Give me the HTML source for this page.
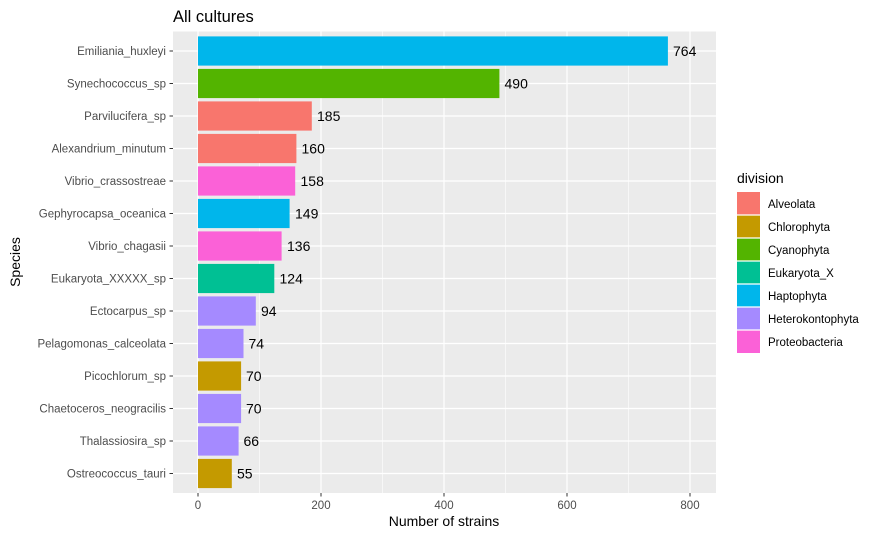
<!DOCTYPE html>
<html><head><style>body{margin:0;background:#fff}svg{display:block;font-family:"Liberation Sans",Arial,sans-serif}</style></head>
<body>
<svg width="879" height="536" viewBox="0 0 879 536" xmlns="http://www.w3.org/2000/svg">
<rect width="879" height="536" fill="#fff"/>
<rect x="173" y="31.5" width="543" height="461.5" fill="#EBEBEB"/>
<g stroke="#fff" stroke-width="0.6">
<line x1="259.5" y1="31.5" x2="259.5" y2="493"/><line x1="382.5" y1="31.5" x2="382.5" y2="493"/><line x1="505.5" y1="31.5" x2="505.5" y2="493"/><line x1="628.5" y1="31.5" x2="628.5" y2="493"/>
</g>
<g stroke="#fff" stroke-width="1.2">
<line x1="198" y1="31.5" x2="198" y2="493"/><line x1="321" y1="31.5" x2="321" y2="493"/><line x1="444" y1="31.5" x2="444" y2="493"/><line x1="567" y1="31.5" x2="567" y2="493"/><line x1="690" y1="31.5" x2="690" y2="493"/>
<line x1="173" y1="51" x2="716" y2="51"/><line x1="173" y1="83.5" x2="716" y2="83.5"/><line x1="173" y1="116" x2="716" y2="116"/><line x1="173" y1="148.5" x2="716" y2="148.5"/><line x1="173" y1="181" x2="716" y2="181"/><line x1="173" y1="213.5" x2="716" y2="213.5"/><line x1="173" y1="246" x2="716" y2="246"/><line x1="173" y1="278.5" x2="716" y2="278.5"/><line x1="173" y1="311" x2="716" y2="311"/><line x1="173" y1="343.5" x2="716" y2="343.5"/><line x1="173" y1="376" x2="716" y2="376"/><line x1="173" y1="408.5" x2="716" y2="408.5"/><line x1="173" y1="441" x2="716" y2="441"/><line x1="173" y1="473.5" x2="716" y2="473.5"/>
</g>
<g>
<rect x="198" y="36.4" width="469.9" height="29.2" fill="#00B6EB"/>
<rect x="198" y="68.9" width="301.4" height="29.2" fill="#53B400"/>
<rect x="198" y="101.4" width="113.8" height="29.2" fill="#F8766D"/>
<rect x="198" y="133.9" width="98.4" height="29.2" fill="#F8766D"/>
<rect x="198" y="166.4" width="97.2" height="29.2" fill="#FB61D7"/>
<rect x="198" y="198.9" width="91.6" height="29.2" fill="#00B6EB"/>
<rect x="198" y="231.4" width="83.6" height="29.2" fill="#FB61D7"/>
<rect x="198" y="263.9" width="76.3" height="29.2" fill="#00C094"/>
<rect x="198" y="296.4" width="57.8" height="29.2" fill="#A58AFF"/>
<rect x="198" y="328.9" width="45.5" height="29.2" fill="#A58AFF"/>
<rect x="198" y="361.4" width="43.1" height="29.2" fill="#C49A00"/>
<rect x="198" y="393.9" width="43.1" height="29.2" fill="#A58AFF"/>
<rect x="198" y="426.4" width="40.6" height="29.2" fill="#A58AFF"/>
<rect x="198" y="458.9" width="33.8" height="29.2" fill="#C49A00"/>
</g>
<g font-size="14" fill="#000">
<text x="673" y="56">764</text><text x="504.5" y="88.5">490</text><text x="317" y="121">185</text><text x="301.5" y="153.5">160</text><text x="300.5" y="186">158</text><text x="295" y="218.5">149</text><text x="287" y="251">136</text><text x="279.5" y="283.5">124</text><text x="261" y="316">94</text><text x="248.5" y="348.5">74</text><text x="246" y="381">70</text><text x="246" y="413.5">70</text><text x="243.5" y="446">66</text><text x="237" y="478.5">55</text>
</g>
<g font-size="11.5" fill="#4D4D4D" text-anchor="end">
<text x="166" y="55">Emiliania_huxleyi</text><text x="166" y="87.5">Synechococcus_sp</text><text x="166" y="120">Parvilucifera_sp</text><text x="166" y="152.5">Alexandrium_minutum</text><text x="166" y="185">Vibrio_crassostreae</text><text x="166" y="217.5">Gephyrocapsa_oceanica</text><text x="166" y="250">Vibrio_chagasii</text><text x="166" y="282.5">Eukaryota_XXXXX_sp</text><text x="166" y="315">Ectocarpus_sp</text><text x="166" y="347.5">Pelagomonas_calceolata</text><text x="166" y="380">Picochlorum_sp</text><text x="166" y="412.5">Chaetoceros_neogracilis</text><text x="166" y="445">Thalassiosira_sp</text><text x="166" y="477.5">Ostreococcus_tauri</text>
</g>
<g stroke="#333" stroke-width="1">
<line x1="169.5" y1="51" x2="173" y2="51"/><line x1="169.5" y1="83.5" x2="173" y2="83.5"/><line x1="169.5" y1="116" x2="173" y2="116"/><line x1="169.5" y1="148.5" x2="173" y2="148.5"/><line x1="169.5" y1="181" x2="173" y2="181"/><line x1="169.5" y1="213.5" x2="173" y2="213.5"/><line x1="169.5" y1="246" x2="173" y2="246"/><line x1="169.5" y1="278.5" x2="173" y2="278.5"/><line x1="169.5" y1="311" x2="173" y2="311"/><line x1="169.5" y1="343.5" x2="173" y2="343.5"/><line x1="169.5" y1="376" x2="173" y2="376"/><line x1="169.5" y1="408.5" x2="173" y2="408.5"/><line x1="169.5" y1="441" x2="173" y2="441"/><line x1="169.5" y1="473.5" x2="173" y2="473.5"/>
<line x1="198" y1="493" x2="198" y2="496.5"/><line x1="321" y1="493" x2="321" y2="496.5"/><line x1="444" y1="493" x2="444" y2="496.5"/><line x1="567" y1="493" x2="567" y2="496.5"/><line x1="690" y1="493" x2="690" y2="496.5"/>
</g>
<g font-size="11.5" fill="#4D4D4D" text-anchor="middle">
<text x="198" y="509">0</text><text x="321" y="509">200</text><text x="444" y="509">400</text><text x="567" y="509">600</text><text x="690" y="509">800</text>
</g>
<text x="444" y="526" font-size="14" text-anchor="middle">Number of strains</text>
<text x="20" y="262" font-size="14" text-anchor="middle" transform="rotate(-90 20 262)">Species</text>
<text x="173" y="22" font-size="16.5">All cultures</text>
<text x="737" y="183" font-size="14">division</text>
<g>
<rect x="737" y="192" width="23" height="23" fill="#F8766D"/>
<rect x="737" y="215" width="23" height="23" fill="#C49A00"/>
<rect x="737" y="238" width="23" height="23" fill="#53B400"/>
<rect x="737" y="261" width="23" height="23" fill="#00C094"/>
<rect x="737" y="284" width="23" height="23" fill="#00B6EB"/>
<rect x="737" y="307" width="23" height="23" fill="#A58AFF"/>
<rect x="737" y="330" width="23" height="23" fill="#FB61D7"/>
</g>
<g stroke="#fff" stroke-width="1.2"><line x1="737" y1="215" x2="760" y2="215"/><line x1="737" y1="238" x2="760" y2="238"/><line x1="737" y1="261" x2="760" y2="261"/><line x1="737" y1="284" x2="760" y2="284"/><line x1="737" y1="307" x2="760" y2="307"/><line x1="737" y1="330" x2="760" y2="330"/></g>
<g font-size="11.5" fill="#000">
<text x="768" y="208">Alveolata</text><text x="768" y="231">Chlorophyta</text><text x="768" y="254">Cyanophyta</text><text x="768" y="277">Eukaryota_X</text><text x="768" y="300">Haptophyta</text><text x="768" y="323">Heterokontophyta</text><text x="768" y="346">Proteobacteria</text>
</g>
</svg>
</body></html>
